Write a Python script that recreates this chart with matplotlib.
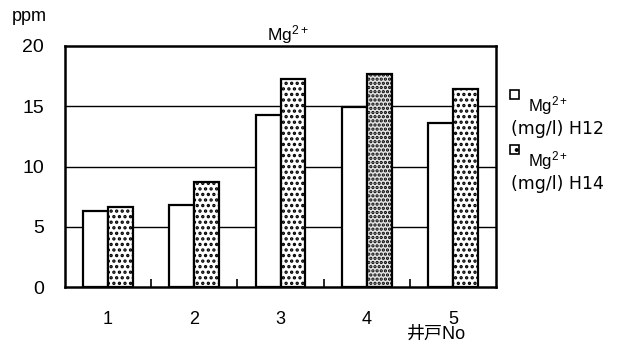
import matplotlib
matplotlib.use("Agg")
import matplotlib.pyplot as plt
from matplotlib.patches import Rectangle
import numpy as np

plt.rcParams['font.family'] = ['Liberation Sans', 'Noto Sans CJK JP', 'DejaVu Sans']
plt.rcParams['mathtext.fontset'] = 'custom'
plt.rcParams['mathtext.rm'] = 'Liberation Sans'
plt.rcParams['mathtext.it'] = 'Liberation Sans'
plt.rcParams['hatch.linewidth'] = 1.6

wells = ["1", "2", "3", "4", "5"]
h12 = [6.3, 6.8, 14.3, 14.9, 13.6]
h14 = [6.6, 8.7, 17.3, 17.7, 16.4]
yticks = [0, 5, 10, 15, 20]
series_names = ["Mg$^{2+}$", "Mg$^{2+}$"]
series_units = ["(mg/l) H12", "(mg/l) H14"]

fig = plt.figure(figsize=(6.32, 3.5), dpi=100)
ax = fig.add_axes([65 / 632, 63 / 350, 431 / 632, 241 / 350])

x = np.arange(1, len(wells) + 1)
w = 0.29
for yv in [5, 10, 15]:
    ax.axhline(yv, color='black', lw=1.0, zorder=0)
ax.bar(x - w / 2, h12, w, facecolor='white', edgecolor='black', lw=1.6, zorder=2)
b14 = ax.bar(x + w / 2, h14, w, facecolor='white', edgecolor='black', lw=1.6,
             hatch='...', zorder=2)
b14[3].set_facecolor('#e4e4e4')
b14[3].set_hatch('....')

ax.set_xlim(0.5, 5.5)
ax.set_ylim(0, 20)
ax.set_yticks(yticks)
ax.set_yticklabels([str(v) for v in yticks], fontsize=14)
ax.set_xticks(x)
ax.set_xticklabels(wells, fontsize=13)
ax.tick_params(axis='x', length=0, pad=17)
ax.tick_params(axis='y', length=0, pad=15)
ax.set_xticks(x[:-1] + 0.5, minor=True)
ax.tick_params(axis='x', which='minor', direction='in', length=6, width=1.2)
for s in ax.spines.values():
    s.set_linewidth(1.8)

fig.text(12 / 632, 1 - 21 / 350, "ppm", fontsize=13, va='baseline')
fig.text(288 / 632, 1 - 40 / 350, "Mg$^{2+}$", fontsize=12.5, ha='center', va='baseline')
fig.text(407 / 632, 1 - 339 / 350, "井戸No", fontsize=13, va='baseline')

# legend (marker with name, unit text wrapped underneath)
leg_tops = [90, 145]
hatches = [None, '..']
for i in range(2):
    top = leg_tops[i]
    fig.patches.append(Rectangle((510 / 632, 1 - (top + 9) / 350), 9 / 632, 9 / 350,
                                 transform=fig.transFigure, facecolor='white',
                                 edgecolor='black', lw=1.2, hatch=hatches[i]))
    fig.text(528 / 632, 1 - (top + 21) / 350, series_names[i], fontsize=12, va='baseline')
    fig.text(511 / 632, 1 - (top + 44) / 350, series_units[i], fontsize=12.5,
             va='baseline', family=['DejaVu Sans'])

fig.savefig("out.png", dpi=100)
